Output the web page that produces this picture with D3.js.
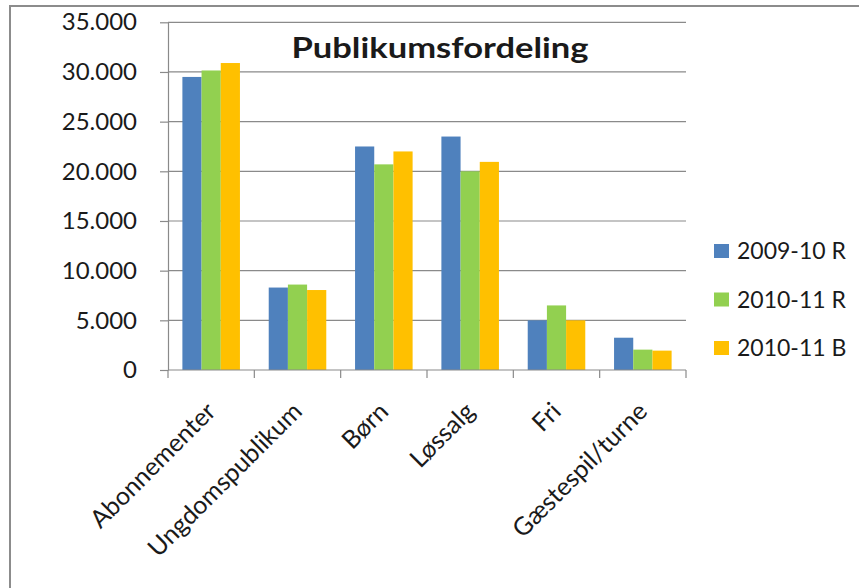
<!DOCTYPE html>
<html>
<head>
<meta charset="utf-8">
<script src="https://cdn.jsdelivr.net/npm/d3@7"></script>
<style>
  html, body { margin: 0; padding: 0; background: #fff; }
  svg { display: block; }
  text { font-family: Lato, "Open Sans", sans-serif; fill: #1a1a1a; }
</style>
</head>
<body>
<svg id="chart" width="859" height="588"></svg>
<script>
// Audience breakdown per category and season
const categories = ["Abonnementer", "Ungdomspublikum", "Børn", "Løssalg", "Fri", "Gæstespil/turne"];
const seriesNames = ["2009-10 R", "2010-11 R", "2010-11 B"];
const season0910R = [29500, 8300, 22500, 23500, 5000, 3250];
const season1011R = [30150, 8600, 20700, 20000, 6500, 2050];
const season1011B = [30900, 8050, 22000, 20950, 5000, 1950];
const yTicks = [0, 5000, 10000, 15000, 20000, 25000, 30000, 35000];
const colors = ["#4f81bd", "#92d050", "#ffc000"];
const title = "Publikumsfordeling";

const seriesValues = [season0910R, season1011R, season1011B];

const svg = d3.select("#chart");
const W = 859, H = 588;

// white page with the chart frame (left and top edges visible)
svg.append("rect").attr("width", W).attr("height", H).attr("fill", "#fff");
svg.append("rect")
  .attr("x", 10).attr("y", 6)
  .attr("width", W + 20).attr("height", H + 20)
  .attr("fill", "none").attr("stroke", "#8c8c8c").attr("stroke-width", 2);

const plot = { left: 168, right: 686, top: 22.3, bottom: 370 };

const x0 = d3.scaleBand().domain(categories).range([plot.left, plot.right]).paddingInner(0).paddingOuter(0);
const x1 = d3.scaleBand().domain(seriesNames).range([0, x0.bandwidth()]).paddingInner(0).paddingOuter(0.75);
const y = d3.scaleLinear().domain([0, 35000]).range([plot.bottom, plot.top]);

const locale = d3.formatLocale({ decimal: ",", thousands: ".", grouping: [3], currency: ["", " kr."] });
const fmt = locale.format(",");

const gridColor = "#8a8a8a";

// horizontal gridlines
svg.append("g")
  .selectAll("line")
  .data(yTicks.filter(d => d > 0))
  .join("line")
  .attr("x1", plot.left).attr("x2", plot.right)
  .attr("y1", d => y(d)).attr("y2", d => y(d))
  .attr("stroke", gridColor).attr("stroke-width", 1.2);

// bars
const groups = svg.append("g")
  .selectAll("g")
  .data(categories)
  .join("g")
  .attr("transform", d => `translate(${x0(d)},0)`);

groups.selectAll("rect")
  .data((c, i) => seriesNames.map((s, k) => ({ s, k, v: seriesValues[k][i] })))
  .join("rect")
  .attr("x", d => x1(d.s))
  .attr("width", x1.bandwidth())
  .attr("y", d => y(d.v))
  .attr("height", d => y(0) - y(d.v))
  .attr("fill", d => colors[d.k]);

// y axis
const yAxis = svg.append("g")
  .attr("transform", `translate(${plot.left},0)`)
  .call(d3.axisLeft(y).tickValues(yTicks).tickFormat(fmt).tickSize(8).tickSizeOuter(0).tickPadding(23));
yAxis.select(".domain").attr("stroke", gridColor).attr("stroke-width", 1.2);
yAxis.selectAll(".tick line").attr("stroke", gridColor).attr("stroke-width", 1.2);
yAxis.selectAll(".tick text")
  .attr("font-size", 24).attr("font-family", "Lato, sans-serif").attr("fill", "#1a1a1a");

// x axis baseline and category boundary ticks
svg.append("line")
  .attr("x1", plot.left).attr("x2", plot.right)
  .attr("y1", y(0)).attr("y2", y(0))
  .attr("stroke", gridColor).attr("stroke-width", 1.2);
const boundaries = categories.map(c => x0(c)).concat([x0(categories[categories.length - 1]) + x0.bandwidth()]);
svg.append("g")
  .selectAll("line")
  .data(boundaries)
  .join("line")
  .attr("x1", d => d).attr("x2", d => d)
  .attr("y1", y(0)).attr("y2", y(0) + 8)
  .attr("stroke", gridColor).attr("stroke-width", 1.2);

// rotated category labels
svg.append("g")
  .selectAll("text")
  .data(categories)
  .join("text")
  .attr("transform", d => `translate(${x0(d) + x0.bandwidth() / 2 + 6},413) rotate(-45)`)
  .attr("text-anchor", "end")
  .attr("font-size", 25)
  .text(d => d);

// title
svg.append("text")
  .attr("x", 440).attr("y", 58)
  .attr("text-anchor", "middle")
  .attr("font-size", 29)
  .attr("font-weight", "bold")
  .attr("fill", "#000")
  .attr("textLength", 297)
  .attr("lengthAdjust", "spacingAndGlyphs")
  .text(title);

// legend
const legend = svg.append("g")
  .selectAll("g")
  .data(seriesNames)
  .join("g")
  .attr("transform", (d, i) => `translate(714,${244 + i * 48.5})`);
legend.append("rect")
  .attr("width", 15).attr("height", 14)
  .attr("fill", (d, i) => colors[i]);
legend.append("text")
  .attr("x", 23).attr("y", 15)
  .attr("font-size", 23)
  .text(d => d);
</script>
</body>
</html>
